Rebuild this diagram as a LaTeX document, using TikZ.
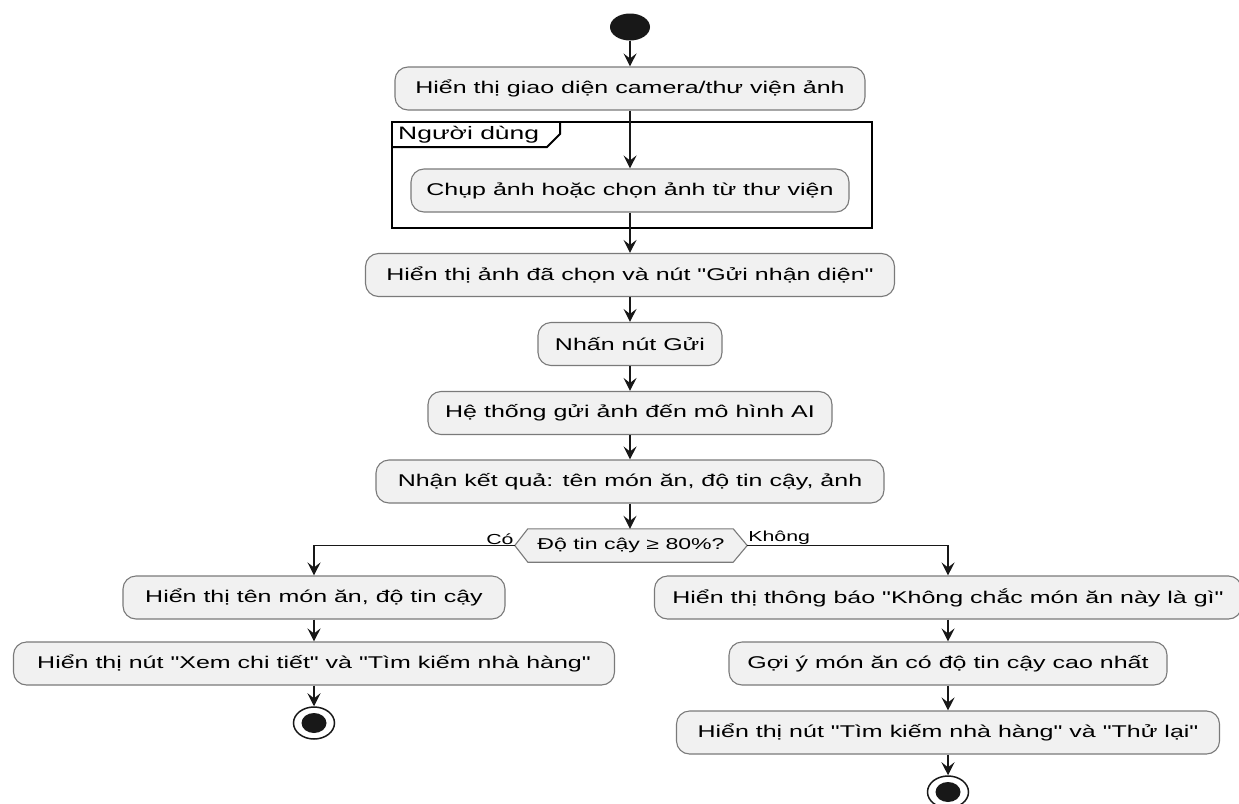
\documentclass[tikz,border=0pt]{standalone}
\usepackage{fontspec}
\setmainfont{Liberation Sans}
\newfontfamily\uifont[FakeStretch=1.47]{Liberation Sans}
\usetikzlibrary{arrows.meta,shapes.geometric,calc}

\definecolor{actfill}{HTML}{F1F1F1}
\definecolor{actline}{HTML}{7A7A7A}
\definecolor{ink}{HTML}{181818}

\tikzset{
  act/.style={draw=actline, line width=1.1pt, fill=actfill, rounded corners=13pt,
    inner xsep=2pt, inner ysep=0pt, minimum height=43pt, text=black,
    font={\uifont\fontsize{17}{20}\selectfont}},
  decbox/.style={rectangle, inner sep=0pt, minimum width=232pt, minimum height=33pt,
    text=black, font={\uifont\fontsize{15.7}{19}\selectfont}},
  hexshape/.style={draw=actline, line width=1.1pt, fill=actfill},
  flow/.style={draw=ink, line width=1.5pt, -{Stealth[length=13pt,width=13pt,inset=5pt]}},
  guard/.style={inner sep=1pt, text=black, font={\uifont\fontsize{14.5}{17}\selectfont}},
  partframe/.style={draw=black, line width=2pt},
  partlabel/.style={inner sep=0pt, text=black, font={\uifont\fontsize{18}{21}\selectfont}},
  startdot/.style={ellipse, fill=ink, minimum width=40pt, minimum height=27pt, inner sep=0pt},
  enddot/.style={ellipse, draw=ink, line width=1.5pt, fill=white, minimum width=41pt,
    minimum height=32pt, inner sep=0pt,
    path picture={\fill[ink] (path picture bounding box.center) ellipse [x radius=12.5pt, y radius=10pt];}},
}

\begin{document}
\begin{tikzpicture}[x=1pt, y=-1pt]
  \path[fill=white, use as bounding box] (0,0) rectangle (1239,803);

  % main column
  \node[startdot] (start) at (630,27) {};
  \node[act, minimum width=470pt] (b1) at (630,88.5) {Hiển thị giao diện camera/thư viện ảnh};

  % swimlane-like partition for the user action
  \draw[partframe] (392,122) rectangle (872,228);
  \draw[partframe] (392,147) -- (547,147) -- (560,134) -- (560,122);
  \node[partlabel, anchor=west] (who) at (398,134.5) {Người dùng};

  \node[act, minimum width=438pt] (b2) at (630,190.5) {Chụp ảnh hoặc chọn ảnh từ thư viện};
  \node[act, minimum width=529pt] (b3) at (630,275) {Hiển thị ảnh đã chọn và nút "Gửi nhận diện"};
  \node[act, minimum width=184pt] (b4) at (630,344) {Nhấn nút Gửi};
  \node[act, minimum width=404pt] (b5) at (630,413) {Hệ thống gửi ảnh đến mô hình AI};
  \node[act, minimum width=508pt] (b6) at (630,481.5) {Nhận kết quả: tên món ăn, độ tin cậy, ảnh};

  % decision
  \node[decbox] (dec) at (631,545.5) {};
  \draw[hexshape] (dec.west) -- ([xshift=13pt]dec.north west) -- ([xshift=-14pt]dec.north east)
     -- (dec.east) -- ([xshift=-14pt]dec.south east) -- ([xshift=13pt]dec.south west) -- cycle;
  \node[decbox] (dectext) at (dec.center) {Độ tin cậy ≥ 80\%?};
  \node[guard, anchor=south east] (yes) at (dec.west) {Có};
  \node[guard, anchor=south west] (no) at (dec.east) {Không};

  % left branch
  \node[act, minimum width=382pt] (l1) at (314,597.5) {Hiển thị tên món ăn, độ tin cậy};
  \node[act, minimum width=601pt] (l2) at (314,663.5) {Hiển thị nút "Xem chi tiết" và "Tìm kiếm nhà hàng"};
  \node[enddot] (endl) at (314,723) {};

  % right branch
  \node[act, minimum width=587pt] (r1) at (948,597.5) {Hiển thị thông báo "Không chắc món ăn này là gì"};
  \node[act, minimum width=438pt] (r2) at (948,663.5) {Gợi ý món ăn có độ tin cậy cao nhất};
  \node[act, minimum width=543pt] (r3) at (948,732.5) {Hiển thị nút "Tìm kiếm nhà hàng" và "Thử lại"};
  \node[enddot] (endr) at (948,792) {};

  % connectors
  \draw[flow] (start) -- (b1);
  \draw[flow] (b1) -- (b2);
  \draw[flow] (b2) -- (b3);
  \draw[flow] (b3) -- (b4);
  \draw[flow] (b4) -- (b5);
  \draw[flow] (b5) -- (b6);
  \draw[flow] (b6.south) -- (b6.south |- dec.north);
  \draw[flow] (dec.west) -| (l1.north);
  \draw[flow] (dec.east) -| (r1.north);
  \draw[flow] (l1) -- (l2);
  \draw[flow] (l2) -- (endl);
  \draw[flow] (r1) -- (r2);
  \draw[flow] (r2) -- (r3);
  \draw[flow] (r3) -- (endr);
\end{tikzpicture}
\end{document}
